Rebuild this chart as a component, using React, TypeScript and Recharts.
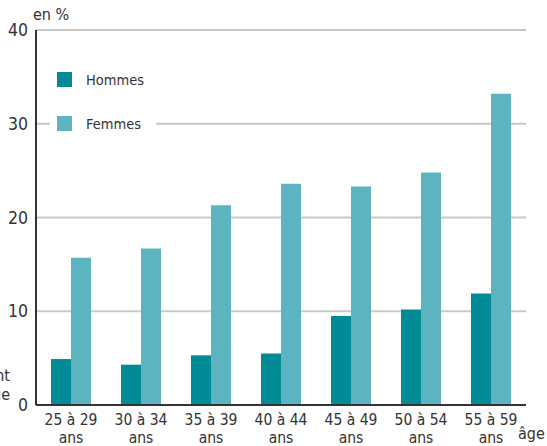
import React from "react";
import { BarChart, Bar, XAxis, YAxis, CartesianGrid } from "recharts";

const categories = ["25 à 29", "30 à 34", "35 à 39", "40 à 44", "45 à 49", "50 à 54", "55 à 59"];
const hommes = [4.9, 4.3, 5.3, 5.5, 9.5, 10.2, 11.9];
const femmes = [15.7, 16.7, 21.3, 23.6, 23.3, 24.8, 33.2];
const yTicks = [0, 10, 20, 30, 40];

const HOMMES = "#008B96";
const FEMMES = "#5BB4C0";
const FONT = "'DejaVu Sans', sans-serif";
const fontStyle: React.CSSProperties = { fontFamily: FONT, fontStretch: "condensed" };

const data = categories.map((c, i) => ({ name: c, Hommes: hommes[i], Femmes: femmes[i] }));

const AgeTick = (props: any) => {
  const { x, y, payload } = props;
  return (
    <text x={x} y={y} textAnchor="middle" fill="#333" fontSize={15.5} style={fontStyle}>
      <tspan x={x} dy={12}>{payload.value}</tspan>
      <tspan x={x} dy={17.5}>ans</tspan>
    </text>
  );
};

const legendItems: [string, string][] = [["Hommes", HOMMES], ["Femmes", FEMMES]];

const label = (text: string, left: number, top: number) => (
  <div style={{ ...fontStyle, position: "absolute", left, top, fontSize: 16, color: "#333", lineHeight: "20px", whiteSpace: "nowrap" }}>
    {text}
  </div>
);

export default function App() {
  return (
    <div style={{ position: "absolute", left: 0, top: 0, width: 547, height: 446, background: "#fff", overflow: "hidden" }}>
      <BarChart width={547} height={446} data={data} barSize={20} barGap={0} margin={{ top: 30, right: 21, bottom: 0, left: 0 }}>
        <CartesianGrid vertical={false} stroke="#c8c8c8" strokeWidth={2} />
        <XAxis dataKey="name" tick={<AgeTick />} tickLine={false} axisLine={{ stroke: "#333", strokeWidth: 2 }} interval={0} height={41} />
        <YAxis domain={[0, 40]} ticks={yTicks} width={36} tickLine={false} axisLine={{ stroke: "#333", strokeWidth: 2 }}
          tick={{ fill: "#333", fontSize: 17.5, style: fontStyle }} />
        <Bar dataKey="Hommes" fill={HOMMES} isAnimationActive={false} />
        <Bar dataKey="Femmes" fill={FEMMES} isAnimationActive={false} />
      </BarChart>
      <div style={{ ...fontStyle, position: "absolute", left: 50, top: 60, width: 106, background: "#fff", padding: "12px 0 10px 7px", boxSizing: "border-box", fontSize: 14.5, color: "#333" }}>
        {legendItems.map(([name, color], i) => (
          <div key={name} style={{ display: "flex", alignItems: "center", height: 15, marginTop: i ? 29 : 0 }}>
            <span style={{ display: "inline-block", width: 15, height: 15, background: color }} />
            <span style={{ marginLeft: 14 }}>{name}</span>
          </div>
        ))}
      </div>
      {label("en %", 33, 5)}
      {label("âge", 518, 424)}
      <div style={{ ...fontStyle, position: "absolute", right: 537, top: 366, fontSize: 16, color: "#333", lineHeight: "19px", textAlign: "right" }}>
        nt<br />ue
      </div>
    </div>
  );
}
